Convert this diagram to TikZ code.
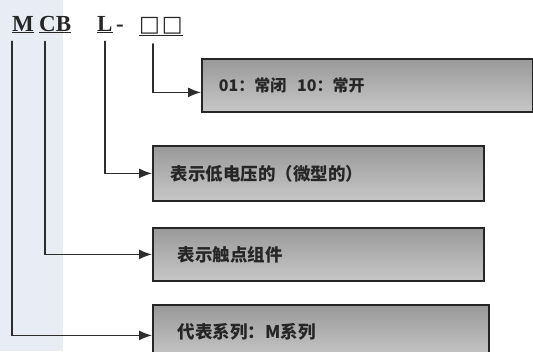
\documentclass[tikz,border=0pt]{standalone}
\usepackage{fontspec}
\setmainfont{Liberation Serif}
\newfontfamily\cjk{Noto Sans CJK SC}
\newfontfamily\symfont{DejaVu Sans}
\usepackage{tikz}
\usetikzlibrary{arrows.meta}
\definecolor{leftband}{RGB}{232,236,245}
\definecolor{linegray}{RGB}{45,45,45}

\begin{document}
\begin{tikzpicture}[x=1pt,y=-1pt,cap=round,>={Latex[length=13pt,width=10pt]}]
            \useasboundingbox (0,0) rectangle (533,351);
            \clip (0,0) rectangle (533,351);

            % light band on the left
            \fill[leftband] (0,0) rectangle (63,351);

            \tikzset{
                code/.style={inner sep=0pt,anchor=base west,font=\fontsize{23}{23}\selectfont\bfseries,text=black!85},
                codebox/.style={draw=black!85,line width=1.8pt,anchor=north west,
                    top color=black!40,bottom color=black!22,
                    minimum height=53pt,align=left,text=black!85,
                    font=\cjk\fontsize{17.5}{17.5}\selectfont\bfseries},
                link/.style={->,draw=linegray,line width=1.4pt,shorten <=8pt}
            }

            % the type code
            \node[code] (m) at (12,31) {\underline{M}};
            \node[code] (cb) at (39,31) {\underline{CB}};
            \node[code] (l) at (97,31) {\underline{L}};
            \node[code] (dash) at (116,31) {-};
            \node[code,font=\symfont\fontsize{22}{22}\selectfont] (cc) at (139,31) {\underline{□\kern2pt□}};

            % the boxes
            \node[codebox,inner xsep=17pt,text width=297pt,font=\cjk\fontsize{16}{16}\selectfont\bfseries] (contact) at (201,58) {01：常闭\ \ 10：常开};
            \node[codebox,inner xsep=18pt,text width=295pt,minimum height=55pt] (voltage) at (152,145) {表示低电压的（微型的）};
            \node[codebox,inner xsep=25pt,text width=281pt] (block) at (152,227) {表示触点组件};
            \node[codebox,inner xsep=25pt,text width=286pt] (series) at (152,304) {代表系列：M系列};

            % connectors
            \draw[link] ([xshift=14pt]cc.south west) |- ([yshift=-7pt]contact.west);
            \draw[link] ([xshift=8pt]l.south west) |- (voltage.west);
            \draw[link] ([xshift=6pt]cb.south west) |- (block.west);
            \draw[link] (m.south west) |- ([yshift=-4pt]series.west);
        \end{tikzpicture}
\end{document}
